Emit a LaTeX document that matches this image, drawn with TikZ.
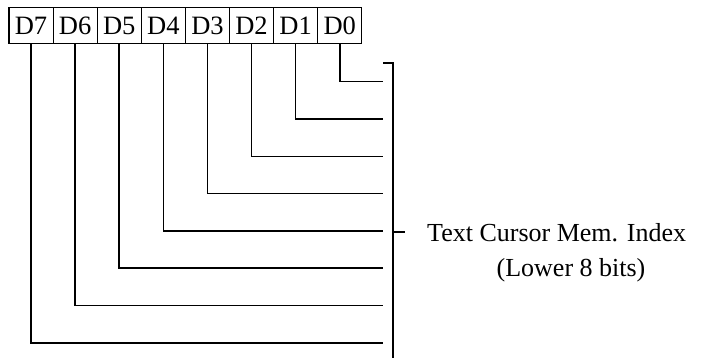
\documentclass[tikz,border=0pt]{standalone}
\usepackage{fontspec}
\setmainfont{Liberation Serif}
\begin{document}
\begin{tikzpicture}[x=1pt,y=-1pt,
  bitbox/.style={draw,line width=1.1pt,minimum width=44.1pt,minimum height=35.5pt,inner sep=0pt,font=\fontsize{26.5}{30}\selectfont},
  wire/.style={line width=1.6pt},
  lbl/.style={font=\fontsize{26}{30}\selectfont,inner sep=0pt}]
\useasboundingbox (0,0) rectangle (708,358);
\foreach \n [count=\k from 0] in {7,6,5,4,3,2,1,0}{
  \node[bitbox] (D\n) at ({9+44.1*(\k+0.5)},25.5) {D\n};
}
\foreach \n in {0,...,7}{
  \coordinate (e\n) at (383,{81.7+37.3*\n});
  \draw[wire] (D\n.south) |- (e\n);
}
\coordinate (bt0) at (383,63);
\coordinate (bt1) at (393,63);
\coordinate (bb) at (393,358);
\coordinate (tk0) at (393,231.7);
\coordinate (tk1) at (405,231.7);
\draw[wire] (bt0) -- (bt1) -- (bb);
\draw[wire] (tk0) -- (tk1);
\node[lbl,anchor=base west] (l1) at (427,241) {Text Cursor Mem. Index};
\node[lbl,anchor=base] (l2) at (571,276) {(Lower 8 bits)};
\end{tikzpicture}
\end{document}
